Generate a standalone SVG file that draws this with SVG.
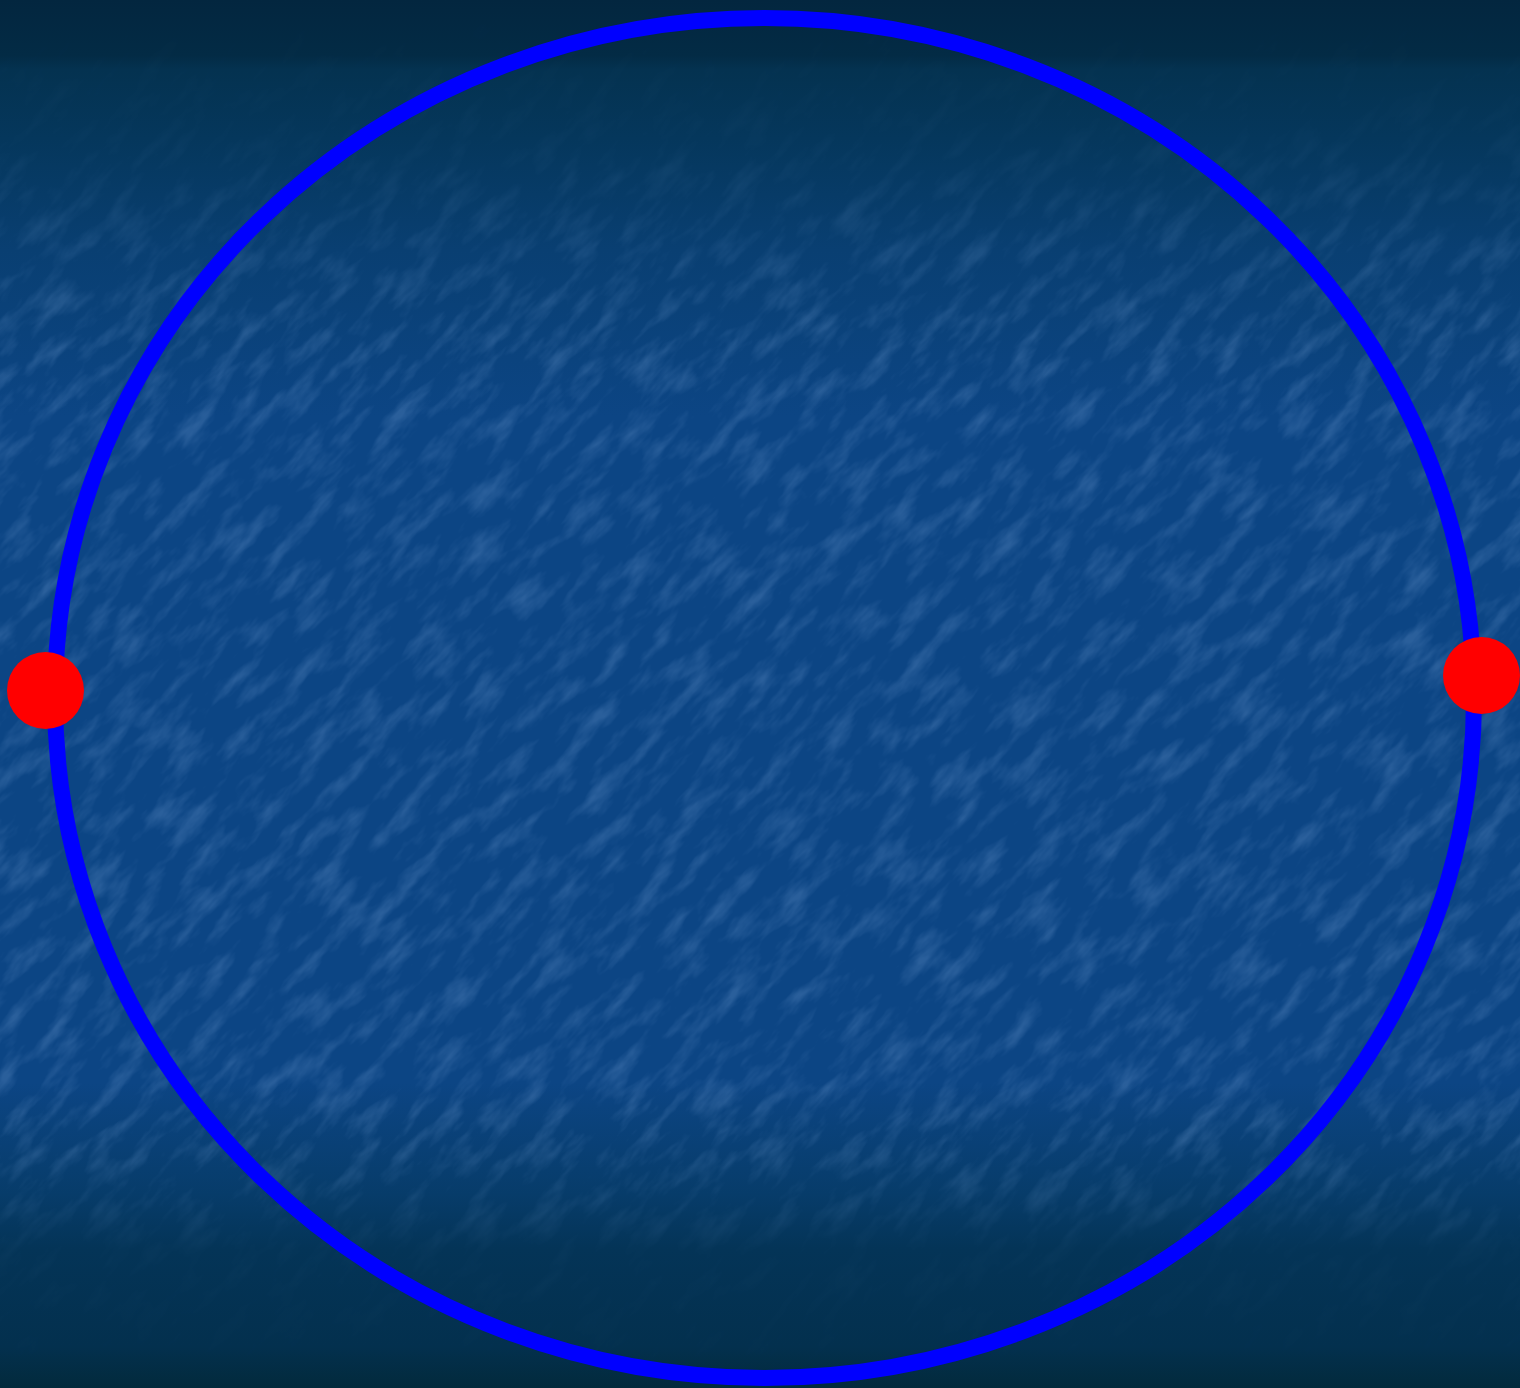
<svg xmlns="http://www.w3.org/2000/svg" width="1520" height="1388" viewBox="0 0 1520 1388">
  <defs>
    <linearGradient id="bg" x1="0" y1="0" x2="0" y2="1">
      <stop offset="0" stop-color="#03263f"/>
      <stop offset="0.04" stop-color="#032b45"/>
      <stop offset="0.05" stop-color="#043250"/>
      <stop offset="0.1" stop-color="#05375c"/>
      <stop offset="0.18" stop-color="#093f72"/>
      <stop offset="0.3" stop-color="#0c4584"/>
      <stop offset="0.78" stop-color="#0c4584"/>
      <stop offset="0.86" stop-color="#073c6a"/>
      <stop offset="0.9" stop-color="#043457"/>
      <stop offset="0.97" stop-color="#03304e"/>
      <stop offset="1" stop-color="#022a3c"/>
    </linearGradient>
    <linearGradient id="fade" x1="0" y1="0" x2="0" y2="1">
      <stop offset="0" stop-color="#fff" stop-opacity="0"/>
      <stop offset="0.1" stop-color="#fff" stop-opacity="0.15"/>
      <stop offset="0.25" stop-color="#fff" stop-opacity="1"/>
      <stop offset="0.82" stop-color="#fff" stop-opacity="1"/>
      <stop offset="0.9" stop-color="#fff" stop-opacity="0.15"/>
      <stop offset="1" stop-color="#fff" stop-opacity="0"/>
    </linearGradient>
    <mask id="texMask">
      <rect width="1520" height="1388" fill="url(#fade)"/>
    </mask>
    <filter id="tex" x="0" y="0" width="100%" height="100%">
      <feTurbulence type="fractalNoise" baseFrequency="0.06 0.02" numOctaves="4" seed="7" result="n"/>
      <feColorMatrix in="n" type="matrix" values="0 0 0 0 0.3  0 0 0 0 0.5  0 0 0 0 0.85  0 0 0 2.4 -1.1" result="c"/>
      <feComposite in="c" in2="SourceGraphic" operator="in"/>
    </filter>
    <style>
      .ring { fill: none; stroke: #0000ff; stroke-width: 16; }
      .dot { fill: #ff0000; }
    </style>
  </defs>
  <rect width="1520" height="1388" fill="url(#bg)"/>
  <g mask="url(#texMask)" opacity="0.22">
    <g transform="rotate(42 760 694)">
      <rect x="-500" y="-500" width="2520" height="2400" fill="#fff" filter="url(#tex)"/>
    </g>
  </g>
  <g id="ring">
    <ellipse class="ring" cx="764.5" cy="698" rx="709.5" ry="680"/>
  </g>
  <g id="connectors"></g>
  <g id="dot-left">
    <circle class="dot" cx="45.5" cy="690.5" r="38.5"/>
  </g>
  <g id="dot-right">
    <circle class="dot" cx="1481.5" cy="675.5" r="38.5"/>
  </g>
</svg>
